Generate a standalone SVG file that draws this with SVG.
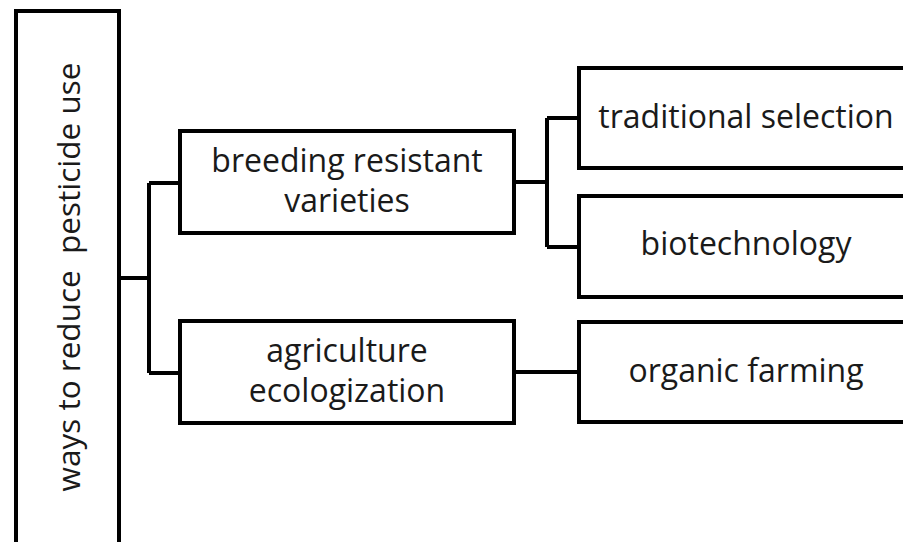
<svg xmlns="http://www.w3.org/2000/svg" width="903" height="542" viewBox="0 0 903 542">
<style>
.box{fill:#fff;stroke:#000;stroke-width:4}
.con{fill:none;stroke:#000;stroke-width:4}
text{font-family:"Open Sans","Noto Sans",sans-serif;font-size:32px;fill:#1a1a1a;text-anchor:middle}
</style>
<rect width="903" height="542" fill="#fff"/>
<g id="connectors">
<path class="con" d="M119 278H149M149 183V373M149 183H180M149 373H180"/>
<path class="con" d="M514 182H547M547 118V247M547 118H579M547 247H579"/>
<path class="con" d="M514 372H579"/>
</g>
<g id="root">
<rect class="box" x="16" y="11" width="103" height="560"/>
<text transform="translate(80 277) rotate(-90)" style="font-size:31.5px" xml:space="preserve">ways to reduce  pesticide use</text>
</g>
<g id="breeding">
<rect class="box" x="180" y="131" width="334" height="102"/>
<text x="347" y="172">breeding resistant</text>
<text x="347" y="212">varieties</text>
</g>
<g id="agriculture">
<rect class="box" x="180" y="321" width="334" height="102"/>
<text x="347" y="362">agriculture</text>
<text x="347" y="402">ecologization</text>
</g>
<g id="traditional">
<rect class="box" x="579" y="68" width="334" height="100"/>
<text x="746" y="128">traditional selection</text>
</g>
<g id="biotech">
<rect class="box" x="579" y="196" width="334" height="101"/>
<text x="746" y="255">biotechnology</text>
</g>
<g id="organic">
<rect class="box" x="579" y="322" width="334" height="100"/>
<text x="746" y="382">organic farming</text>
</g>
</svg>
